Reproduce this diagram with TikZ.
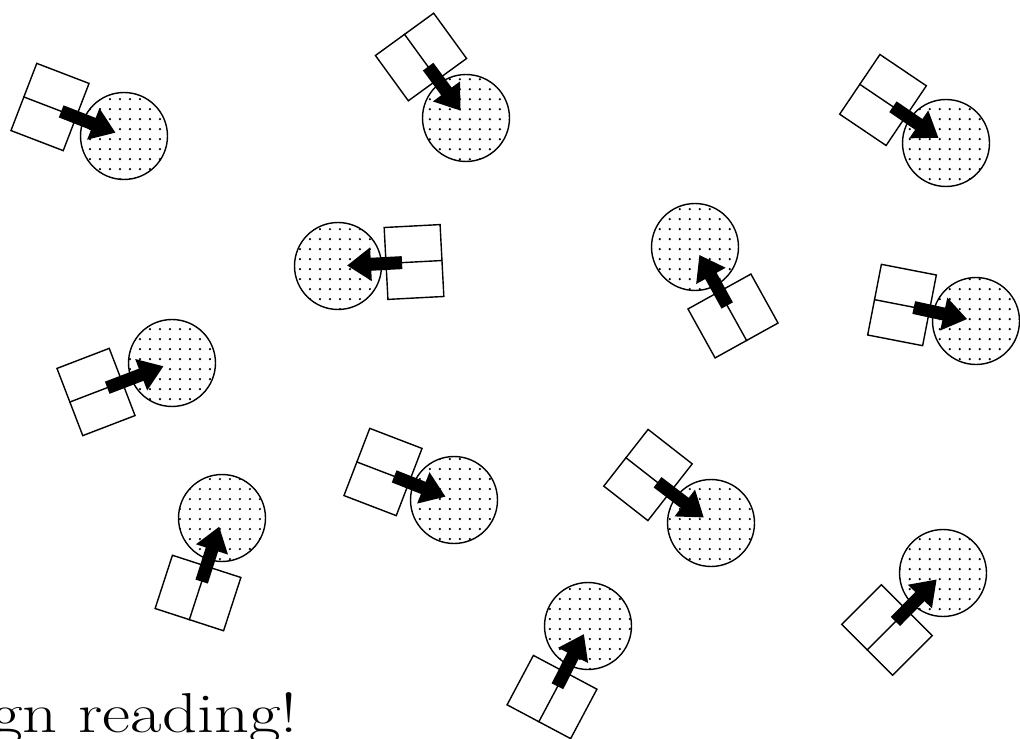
\documentclass[tikz,border=0pt]{standalone}
\usetikzlibrary{arrows.meta, patterns}
\pgfdeclarepatternformonly{pagedots}{\pgfqpoint{-1pt}{-1pt}}{\pgfqpoint{1pt}{1pt}}{\pgfqpoint{5.69pt}{5.69pt}}{%
  \pgfpathcircle{\pgfqpoint{0pt}{0pt}}{0.7pt}\pgfusepath{fill}}

\begin{document}
\begin{tikzpicture}[
    x=0.02cm, y=-0.02cm,
    head/.style={
        circle, draw=black, thick, pattern=pagedots,
        minimum size=1.74cm, inner sep=0pt
    },
    book/.style={
        rectangle, draw=black, thick,
        minimum width=1.12cm, minimum height=1.44cm, inner sep=0pt
    },
    gaze/.style={-{Triangle[length=0.48cm, width=0.64cm]}, line width=0.26cm,
        shorten <=0.24cm, shorten >=0.18cm}
]
\useasboundingbox (0,0) rectangle (1020,739);

% head x/y, book x/y, book angle
\foreach \i/\hx/\hy/\bx/\by/\a in {
    1/124/136/50/107/-21,   2/338/266/414/262/183,
    3/466/118/421/57/-54,   4/946/143/883/100/-34,
    5/695/247/733/316/119,  6/976/321/902/305/-11,
    7/172/363/96/392/21,    8/454/500/383/472/-21,
    9/711/523/648/475/-38,  10/222/518/198/593/72,
    11/588/626/552/697/62,  12/943/573/887/630/45} {
    \node[head] (head\i) at (\hx,\hy) {};
    \node[book, rotate=\a] (book\i) at (\bx,\by) {};
    \draw[thick] (book\i.west) -- (book\i.east);
    \draw[gaze] (book\i.center) -- (head\i.center);
}

\node[anchor=base west, inner sep=0pt, font=\fontsize{32}{38}\selectfont]
    (slogan) at (-9,732) {\scalebox{1.22}[1]{gn reading!}};

\end{tikzpicture}
\end{document}
